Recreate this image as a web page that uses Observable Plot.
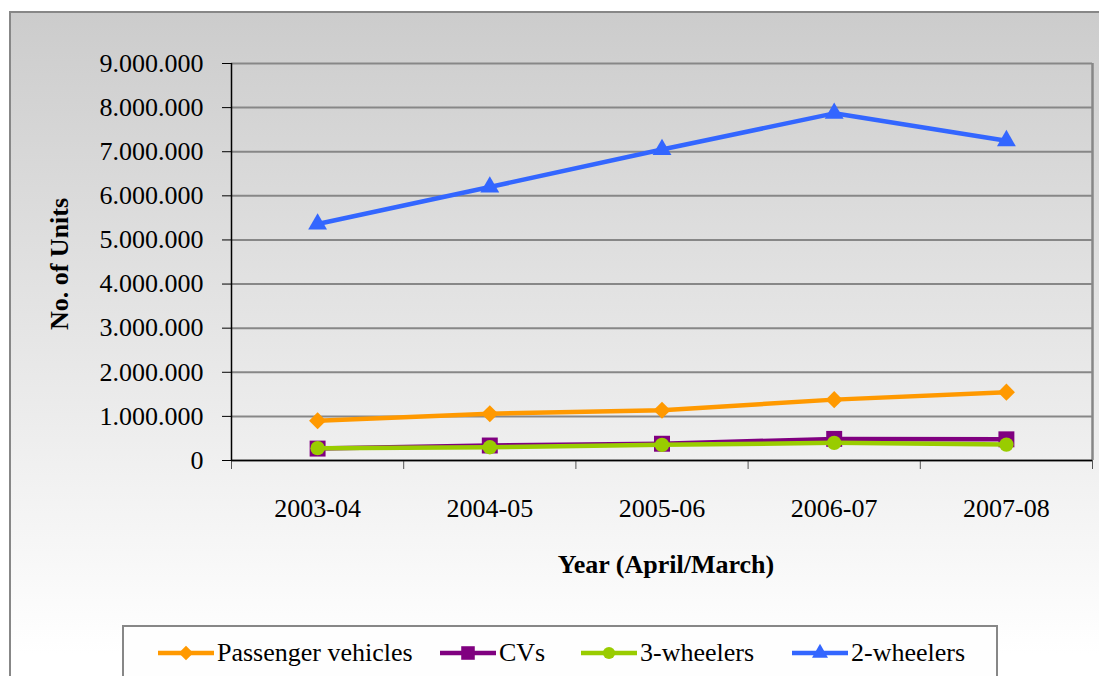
<!DOCTYPE html>
<html><head><meta charset="utf-8">
<script src="https://cdn.jsdelivr.net/npm/d3@7"></script>
<script src="https://cdn.jsdelivr.net/npm/@observablehq/plot@0.6"></script>
<style>
body{margin:0;width:1099px;height:676px;overflow:hidden;background:#fff;position:relative;font-family:"Liberation Serif",serif;}
#frame{position:absolute;left:9px;top:11px;width:1200px;height:720px;border:2px solid #878787;background:linear-gradient(#cccccc 0px,#ffffff 640px,#ffffff 720px);}
#chart{position:absolute;left:0;top:0;}
#legend{position:absolute;left:122px;top:625px;width:876px;height:80px;border:2px solid #878787;background:#fefefe;box-sizing:border-box;display:flex;justify-content:flex-start;align-items:flex-start;padding-top:8px;padding-left:34px;}
.item{display:flex;align-items:center;height:36px;font-size:26px;color:#000;white-space:nowrap;font-family:"Liberation Serif",serif;}
.item svg{margin-right:3px;}
</style></head>
<body>
<div id="frame"></div>
<div id="chart"></div>
<div id="legend"></div>
<script>
const years = ["2003-04", "2004-05", "2005-06", "2006-07", "2007-08"];
const seriesNames = ["Passenger vehicles", "CVs", "3-wheelers", "2-wheelers"];
const passengerVehicles = [900000, 1060000, 1140000, 1380000, 1550000];
const cvs = [270000, 340000, 380000, 490000, 480000];
const threeWheelers = [280000, 300000, 355000, 400000, 360000];
const twoWheelers = [5360000, 6200000, 7050000, 7870000, 7250000];
const yTicks = [0, 1000000, 2000000, 3000000, 4000000, 5000000, 6000000, 7000000, 8000000, 9000000];
const xTitle = "Year (April/March)";
const yTitle = "No. of Units";

const colors = ["#FF9900", "#800080", "#99CC00", "#3366FF"];
const symbols = ["diamond2", "square", "circle", "triangle"];
const radii = [7.7, 9, 7.2, 7];
const legendWidths = [282, 141, 211, null];
const seriesValues = [passengerVehicles, cvs, threeWheelers, twoWheelers];

const fmt = v => d3.format(",")(v).replace(/,/g, ".");
const boundaries = d3.range(years.length + 1);
const centers = years.map((_, i) => i + 0.5);

const rowsBySeries = seriesNames.map((name, s) =>
  seriesValues[s].map((v, i) => ({series: name, year: years[i], pos: i + 0.5, value: v}))
);

const seriesMarks = rowsBySeries.flatMap((rows, s) => [
  Plot.line(rows, {x: "pos", y: "value", stroke: colors[s], strokeWidth: 4.5, curve: "linear"}),
  Plot.dot(rows, {x: "pos", y: "value", symbol: () => symbols[s], fill: colors[s], r: radii[s], stroke: "none"})
]);

const chart = Plot.plot({
  width: 1099,
  height: 620,
  marginLeft: 231,
  marginRight: 7,
  marginTop: 63,
  marginBottom: 160,
  style: {background: "transparent", fontFamily: "'Liberation Serif', serif", fontSize: "26px", color: "#000", overflow: "visible"},
  x: {domain: [0, years.length], axis: null},
  y: {domain: [0, 9000000], axis: null},
  symbol: {type: "identity"},
  marks: [
    Plot.gridY(yTicks, {stroke: "#878787", strokeOpacity: 1, strokeWidth: 2}),
    Plot.ruleX([years.length], {stroke: "#878787", strokeWidth: 2.5}),
    Plot.axisY(yTicks, {tickSize: 9, tickPadding: 19, tickFormat: fmt, fontSize: 26, stroke: "#000", label: null}),
    Plot.axisX(boundaries, {tickSize: 9, tickFormat: () => "", stroke: "#555", label: null}),
    Plot.axisX(centers, {tickSize: 0, tickPadding: 38, tickFormat: v => years[Math.floor(v)], fontSize: 26, label: null}),
    Plot.ruleX([0], {stroke: "#000", strokeWidth: 1.5}),
    Plot.ruleY([0], {stroke: "#000", strokeWidth: 1.5}),
    ...seriesMarks,
    Plot.text([xTitle], {frameAnchor: "bottom", text: d => d, dy: 104, lineAnchor: "middle", fontWeight: "bold", fontSize: 26, dx: 4}),
    Plot.text([yTitle], {frameAnchor: "left", text: d => d, dx: -172, dy: 2, rotate: -90, textAnchor: "middle", lineAnchor: "middle", fontWeight: "bold", fontSize: 26})
  ]
});
document.getElementById("chart").appendChild(chart);

// legend
const legend = document.getElementById("legend");
const symMap = {diamond2: d3.symbolDiamond2, square: d3.symbolSquare, circle: d3.symbolCircle, triangle: d3.symbolTriangle};
seriesNames.forEach((name, s) => {
  const item = document.createElement("div");
  item.className = "item";
  if (legendWidths[s]) item.style.width = legendWidths[s] + "px";
  const sw = d3.create("svg").attr("width", 56).attr("height", 20);
  sw.append("line").attr("x1", 0).attr("x2", 56).attr("y1", 10).attr("y2", 10)
    .attr("stroke", colors[s]).attr("stroke-width", 4.5);
  sw.append("path").attr("transform", "translate(28,10)")
    .attr("d", d3.symbol(symMap[symbols[s]], Math.PI * (radii[s] * 0.85) ** 2)())
    .attr("fill", colors[s]);
  item.appendChild(sw.node());
  const span = document.createElement("span");
  span.textContent = name;
  item.appendChild(span);
  legend.appendChild(item);
});
</script>
</body></html>
